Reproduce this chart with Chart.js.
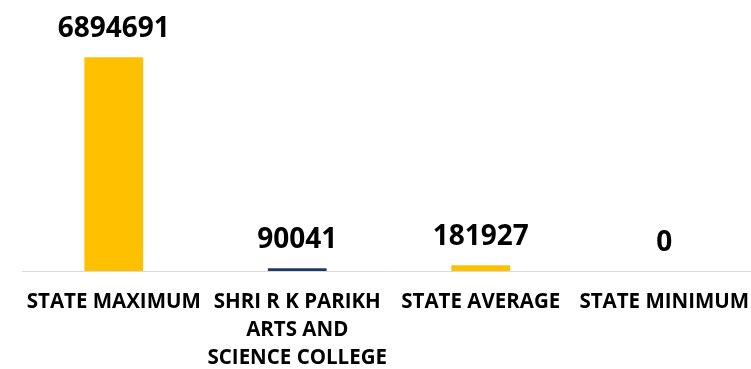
<!DOCTYPE html>
<html>
<head>
<meta charset="utf-8">
<script src="https://cdn.jsdelivr.net/npm/chart.js@4/dist/chart.umd.min.js"></script>
<style>
html,body{margin:0;padding:0;background:#fff;overflow:hidden;width:751px;height:369px;}
#wrap{width:756px;height:369px;}
</style>
</head>
<body>
<div id="wrap"><canvas id="c" width="756" height="369"></canvas></div>
<script>
const categories = [
  ["STATE MAXIMUM"],
  ["SHRI R K PARIKH", "ARTS AND", "SCIENCE COLLEGE"],
  ["STATE AVERAGE"],
  ["STATE MINIMUM"]
];
const values = [6894691, 90041, 181927, 0];
const barColors = ["#FFC000", "#1F3864", "#FFC000", "#FFC000"];

const FONT = "'Open Sans', sans-serif";

const valueLabels = {
  id: 'valueLabels',
  afterDatasetsDraw(chart) {
    const ctx = chart.ctx;
    const meta = chart.getDatasetMeta(0);
    ctx.save();
    ctx.font = "bold 28px " + FONT;
    ctx.fillStyle = "#000";
    ctx.textAlign = "center";
    ctx.textBaseline = "alphabetic";
    meta.data.forEach((bar, i) => {
      ctx.fillText(String(values[i]), bar.x, bar.y - 20);
    });
    ctx.restore();
  }
};

new Chart(document.getElementById('c'), {
  type: 'bar',
  data: {
    labels: categories,
    datasets: [{
      data: values,
      backgroundColor: barColors,
      borderWidth: 0,
      barPercentage: 0.32,
      categoryPercentage: 1.0
    }]
  },
  options: {
    responsive: false,
    animation: false,
    devicePixelRatio: 1,
    layout: { padding: { top: 23, left: 22, right: 0, bottom: 0 } },
    plugins: { legend: { display: false }, tooltip: { enabled: false } },
    scales: {
      y: { display: false, min: 0, max: 8000000 },
      x: {
        grid: { display: false, drawTicks: false },
        border: { display: true, color: '#d9d9d9', width: 1 },
        ticks: {
          color: '#000',
          font: { family: FONT, size: 20.5, weight: 'bold', lineHeight: 1.37 },
          padding: 17,
          maxRotation: 0,
          autoSkip: false
        },
        afterFit(scale) {
          scale.height = 98;
          scale.paddingLeft = 0;
          scale.paddingRight = 0;
        }
      }
    }
  },
  plugins: [valueLabels]
});
</script>
</body>
</html>
